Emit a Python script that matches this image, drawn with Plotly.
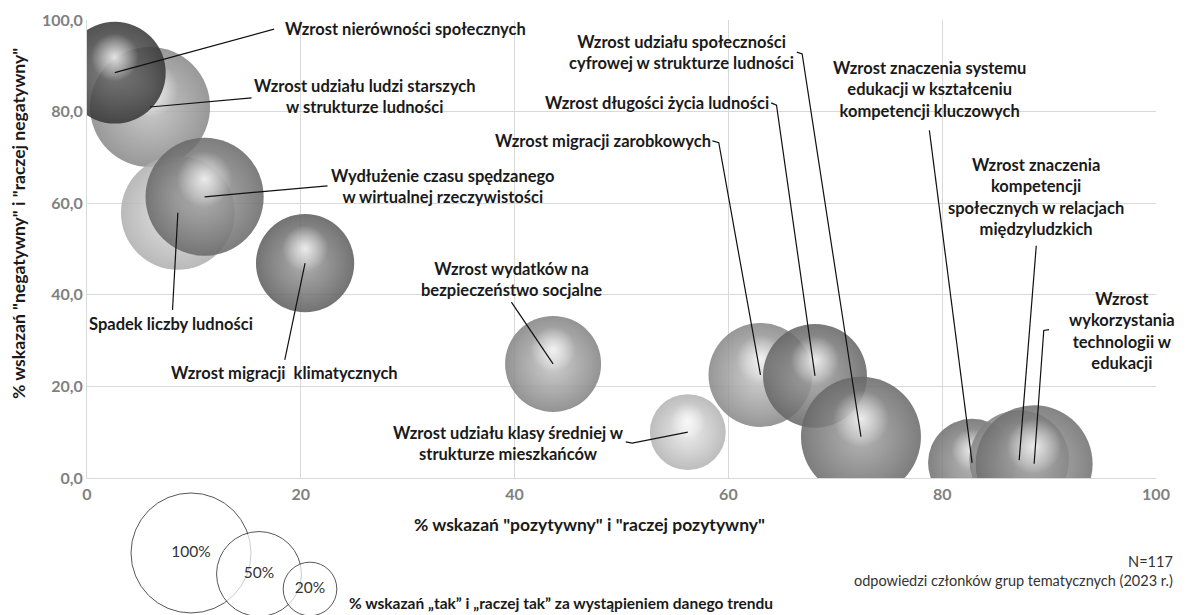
import plotly.graph_objects as go

# ---------------- data ----------------
trends = [
    "Wzrost udziału ludzi starszych<br>w strukturze ludności",
    "Wzrost nierówności społecznych",
    "Spadek liczby ludności",
    "Wydłużenie czasu spędzanego<br>w wirtualnej rzeczywistości",
    "Wzrost migracji  klimatycznych",
    "Wzrost wydatków na<br>bezpieczeństwo socjalne",
    "Wzrost udziału klasy średniej w<br>strukturze mieszkańców",
    "Wzrost migracji zarobkowych",
    "Wzrost długości życia ludności",
    "Wzrost udziału społeczności<br>cyfrowej w strukturze ludności",
    "Wzrost znaczenia systemu<br>edukacji w kształceniu<br>kompetencji kluczowych",
    "Wzrost znaczenia<br>kompetencji<br>społecznych w relacjach<br>międzyludzkich",
    "Wzrost<br>wykorzystania<br>technologii w<br>edukacji",
]
positive = [5.9, 2.6, 8.5, 11.0, 20.4, 43.6, 56.2, 63.0, 68.1, 72.4, 82.8, 87.2, 88.6]
negative = [81.0, 88.5, 57.9, 61.4, 46.9, 24.9, 10.0, 22.5, 22.3, 9.0, 3.3, 3.9, 3.1]
yes_share = [100, 72, 90, 97, 67, 64, 40, 75, 75, 100, 54, 69, 95]

legend_sizes = [100, 50, 20]
legend_labels = ["100%", "50%", "20%"]

x_ticks = [0, 20, 40, 60, 80, 100]
y_ticks = [0, 20, 40, 60, 80, 100]
y_ticktext = ["0,0", "20,0", "40,0", "60,0", "80,0", "100,0"]

# ---------------- styling ----------------
edge_colors = ["#888888", "#363636", "#aeaeae", "#686868", "#5c5c5c", "#828282",
               "#b2b2b2", "#868686", "#646464", "#686868", "#6e6e6e", "#828282", "#707070"]
center_colors = ["#c2c2c2", "#707070", "#e2e2e2", "#a8a8a8", "#a2a2a2", "#c6c6c6",
                 "#eaeaea", "#cacaca", "#a4a4a4", "#a8a8a8", "#aaaaaa", "#bababa", "#aaaaaa"]

FIG_W, FIG_H = 1187, 615
M_L, M_R, M_T, M_B = 87, 31, 20, 0
Y_DOM0 = 0.2303
SIZEREF = 100 / (2 * 60 ** 2)
Y_PX_PER_UNIT = (FIG_H - M_T - M_B) * (1 - Y_DOM0) / 100.0
FONT = "Lato"
TXT = "#1a1a1a"
LBL = 16.5

# label layout (data coords)
label_pos = [
    (26.0, 83.4), (18.3, 98.0), (7.9, 33.6), (33.3, 63.6), (18.5, 22.9),
    (39.7, 43.3), (39.4, 7.6), (48.3, 73.6), (53.3, 81.9), (55.6, 92.9),
    (78.8, 84.9), (88.8, 61.4), (96.8, 32.1),
]
label_anchor = ["center", "left", "center", "center", "center", "center", "center",
                "center", "center", "center", "center", "center", "center"]
# leader line points from label side (data coords); bubble centre appended
leader_pts = [
    [(15.4, 83.0)],
    [(17.5, 98.0)],
    [(8.0, 36.7)],
    [(22.5, 63.8)],
    [(18.5, 25.8)],
    [(39.7, 38.4)],
    [(50.4, 7.9), (51.0, 7.6)],
    [(58.5, 73.6), (59.1, 73.2)],
    [(64.0, 81.9), (64.5, 81.4)],
    [(66.4, 93.0), (66.9, 92.6)],
    [(78.8, 75.9)],
    [(88.8, 50.7)],
    [(90.0, 32.4), (89.5, 32.2)],
]

# bubble + highlight interleaved so each sphere keeps its own stacking order
HL_AREA = 0.22      # highlight area relative to bubble
HL_SHIFT = 0.30     # highlight shift (fraction of radius) upwards
xs, ys, sizes, cols, gcols, ops = [], [], [], [], [], []
for i in range(len(positive)):
    r_px = (yes_share[i] / (2 * SIZEREF)) ** 0.5
    xs += [positive[i], positive[i]]
    ys += [negative[i], negative[i] + HL_SHIFT * r_px / Y_PX_PER_UNIT]
    sizes += [yes_share[i], yes_share[i] * HL_AREA]
    cols += [edge_colors[i], "rgba(255,255,255,0)"]
    gcols += [center_colors[i], "rgba(255,255,255,0.80)"]
    ops += [0.86, 1.0]

fig = go.Figure()
fig.add_trace(go.Scatter(
    x=xs, y=ys, mode="markers", hoverinfo="skip",
    marker=dict(size=sizes, sizemode="area", sizeref=SIZEREF,
                color=cols, opacity=ops,
                gradient=dict(type="radial", color=gcols),
                line=dict(width=0)),
    showlegend=False,
))

# size legend
fig.add_trace(go.Scatter(
    x=[0.0973, 0.1609, 0.2086], y=[0.4526, 0.2993, 0.1898],
    xaxis="x2", yaxis="y2", mode="markers+text",
    text=legend_labels, textposition="middle center",
    textfont=dict(family=FONT, size=15.5, color="#333333"),
    marker=dict(size=legend_sizes, sizemode="area", sizeref=SIZEREF,
                color="white", line=dict(color="#111111", width=1)),
    cliponaxis=False, hoverinfo="skip", showlegend=False,
))

shapes = []
for i in range(len(trends)):
    pts = leader_pts[i] + [(positive[i], negative[i])]
    path = "M " + " L ".join(f"{px},{py}" for px, py in pts)
    shapes.append(dict(type="path", path=path, xref="x", yref="y",
                       line=dict(color="#111111", width=1.2)))

annotations = []
for i, t in enumerate(trends):
    lx, ly = label_pos[i]
    annotations.append(dict(
        x=lx, y=ly, xref="x", yref="y", text=t, showarrow=False,
        xanchor=label_anchor[i], yanchor="middle", align="center",
        font=dict(family=FONT, size=LBL, color=TXT, weight="bold"),
    ))

annotations += [
    dict(x=-0.0645, y=0.6571, xref="paper", yref="paper", textangle=-90,
         xanchor="center", yanchor="middle",
         text='% wskazań "negatywny" i "raczej negatywny"', showarrow=False,
         font=dict(family=FONT, size=17.5, color=TXT, weight="bold")),
    dict(x=0.4696, y=0.1513, xref="paper", yref="paper",
         xanchor="center", yanchor="middle",
         text='% wskazań "pozytywny" i "raczej pozytywny"', showarrow=False,
         font=dict(family=FONT, size=17.5, color=TXT, weight="bold")),
    dict(x=1.0178, y=0.0739, xref="paper", yref="paper", xanchor="right", yanchor="middle",
         align="right",
         text="N=117<br>odpowiedzi członków grup tematycznych (2023 r.)", showarrow=False,
         font=dict(family=FONT, size=14.5, color="#333333")),
    dict(x=0.2432, y=0.0202, xref="paper", yref="paper", xanchor="left", yanchor="middle",
         text="% wskazań „tak” i „raczej tak” za wystąpieniem danego trendu", showarrow=False,
         font=dict(family=FONT, size=15.5, color=TXT, weight="bold")),
]

GRID = "#d9d9d9"
fig.update_layout(
    width=FIG_W, height=FIG_H,
    margin=dict(l=M_L, r=M_R, t=M_T, b=M_B, autoexpand=False),
    paper_bgcolor="white", plot_bgcolor="white",
    font=dict(family=FONT),
    xaxis=dict(range=[0, 100], domain=[0, 1], anchor="y", automargin=False,
               tickvals=x_ticks, ticktext=[str(v) for v in x_ticks],
               showgrid=True, gridcolor=GRID, gridwidth=1,
               zeroline=False, showline=True, linecolor=GRID, mirror=False,
               ticks="", ticklabelstandoff=2,
               tickfont=dict(family=FONT, size=16, color="#808080", weight="bold")),
    yaxis=dict(range=[0, 100], domain=[Y_DOM0, 1], anchor="x", automargin=False,
               tickvals=y_ticks, ticktext=y_ticktext,
               showgrid=True, gridcolor=GRID, gridwidth=1,
               zeroline=False, showline=True, linecolor=GRID,
               ticks="", ticklabelstandoff=0,
               tickfont=dict(family=FONT, size=16, color="#808080", weight="bold")),
    xaxis2=dict(range=[0, 1], domain=[0, 1], anchor="y2", visible=False),
    yaxis2=dict(range=[0, 1], domain=[0, Y_DOM0], anchor="x2", visible=False),
    shapes=shapes,
    annotations=annotations,
)

fig.write_html(
    "out.html",
    config={"displayModeBar": False},
    post_script="document.body.style.margin='0';document.body.style.overflow='hidden';",
)
